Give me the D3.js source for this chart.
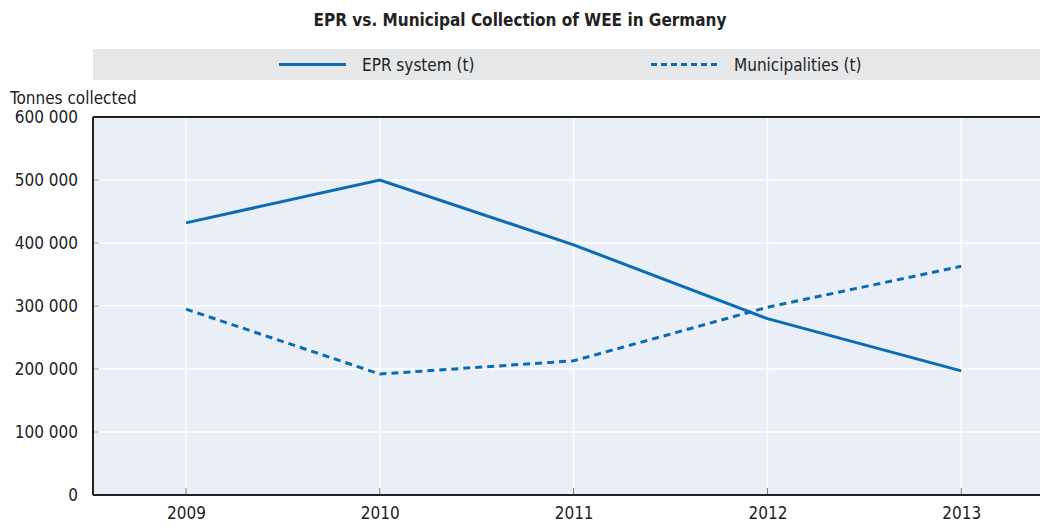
<!DOCTYPE html>
<html>
<head>
<meta charset="utf-8">
<script src="https://cdn.jsdelivr.net/npm/d3@7"></script>
<style>
  body { margin: 0; background: #fff; overflow: hidden; }
  svg { display: block; }
  text { font-family: "Liberation Sans Narrow", "Arial Narrow", "DejaVu Sans Condensed", sans-serif; fill: #222; }
</style>
</head>
<body>
<div id="chart"></div>
<script>
var years = [2009, 2010, 2011, 2012, 2013]
var eprValues = [432000, 500000, 397000, 280000, 197000]
var muniValues = [295000, 192000, 213000, 298000, 363000]
var yTicks = [0, 100000, 200000, 300000, 400000, 500000, 600000]
var seriesNames = ["EPR system (t)", "Municipalities (t)"]

var outerWidth = 1040, outerHeight = 526
var margins = {top: 117, right: -22, bottom: 31, left: 93}
var innerWidth = outerWidth - margins.left - margins.right
var innerHeight = outerHeight - margins.top - margins.bottom
// visible part of the plot (the panel runs past the right edge of the window)
var visibleWidth = outerWidth - margins.left

var blue = "#0a6cb4"

var svg = d3.select("#chart").append("svg")
    .attr("width", outerWidth)
    .attr("height", outerHeight)

svg.append("text")
    .attr("x", 520)
    .attr("y", 26)
    .attr("text-anchor", "middle")
    .attr("font-size", "17px")
    .attr("font-weight", "bold")
    .text("EPR vs. Municipal Collection of WEE in Germany")

// legend band
svg.append("rect")
    .attr("x", 93).attr("y", 49)
    .attr("width", outerWidth - 93).attr("height", 31)
    .attr("fill", "#e6e7e9")

var legendItems = [
    {name: seriesNames[0], x: 279, dash: null},
    {name: seriesNames[1], x: 651, dash: "6,4"}
]
legendItems.forEach(function(it) {
    svg.append("line")
        .attr("x1", it.x).attr("x2", it.x + 67)
        .attr("y1", 64.5).attr("y2", 64.5)
        .attr("stroke", blue).attr("stroke-width", 3)
        .attr("stroke-dasharray", it.dash)
    svg.append("text")
        .attr("x", it.x + 83)
        .attr("y", 71)
        .attr("font-size", "17px")
        .text(it.name)
})

svg.append("text")
    .attr("x", 10)
    .attr("y", 104)
    .attr("font-size", "17px")
    .text("Tonnes collected")

var plot = svg.append("g")
    .attr("transform", "translate(" + margins.left + "," + margins.top + ")")

var xScale = d3.scaleLinear().domain([2008.52, 2013.52]).range([0, innerWidth])
var yScale = d3.scaleLinear().domain([0, 600000]).range([innerHeight, 0])

plot.append("rect")
    .attr("width", visibleWidth).attr("height", innerHeight)
    .attr("fill", "#e9eef7")

// gridlines
plot.selectAll(".hgrid")
    .data(yTicks.slice(1, -1))
    .enter().append("line")
    .attr("x1", 0).attr("x2", visibleWidth)
    .attr("y1", function(d) { return yScale(d) })
    .attr("y2", function(d) { return yScale(d) })
    .attr("stroke", "#fff").attr("stroke-width", 1.5)

plot.selectAll(".vgrid")
    .data(years)
    .enter().append("line")
    .attr("x1", function(d) { return xScale(d) })
    .attr("x2", function(d) { return xScale(d) })
    .attr("y1", 0).attr("y2", innerHeight)
    .attr("stroke", "#fff").attr("stroke-width", 1.5)

// y axis
var yAxis = d3.axisLeft(yScale)
    .tickValues(yTicks)
    .tickSize(0)
    .tickPadding(15)
    .tickFormat(function(d) { return d3.format(",")(d).replace(/,/g, " ") })
var gy = plot.append("g").call(yAxis)
gy.select(".domain").remove()
gy.selectAll("text").attr("font-size", "17px").attr("fill", "#222")

// small inner ticks on y
plot.selectAll(".ytick")
    .data(yTicks.slice(1, -1))
    .enter().append("line")
    .attr("x1", 0).attr("x2", 6)
    .attr("y1", function(d) { return yScale(d) })
    .attr("y2", function(d) { return yScale(d) })
    .attr("stroke", "#999").attr("stroke-width", 1)

// x axis
var xAxis = d3.axisBottom(xScale)
    .tickValues(years)
    .tickSize(0)
    .tickPadding(12)
    .tickFormat(d3.format("d"))
var gx = plot.append("g")
    .attr("transform", "translate(0," + innerHeight + ")")
    .call(xAxis)
gx.select(".domain").remove()
gx.selectAll("text").attr("font-size", "17px").attr("fill", "#222")

plot.selectAll(".xtick")
    .data(years)
    .enter().append("line")
    .attr("x1", function(d) { return xScale(d) })
    .attr("x2", function(d) { return xScale(d) })
    .attr("y1", innerHeight).attr("y2", innerHeight - 7)
    .attr("stroke", "#777").attr("stroke-width", 1)

// borders
plot.append("line").attr("x1", 0).attr("x2", visibleWidth).attr("y1", 0).attr("y2", 0)
    .attr("stroke", "#222").attr("stroke-width", 2)
plot.append("line").attr("x1", 0).attr("x2", visibleWidth).attr("y1", innerHeight).attr("y2", innerHeight)
    .attr("stroke", "#222").attr("stroke-width", 2)
plot.append("line").attr("x1", 0).attr("x2", 0).attr("y1", 0).attr("y2", innerHeight)
    .attr("stroke", "#222").attr("stroke-width", 2)

var line = d3.line()
    .x(function(d, i) { return xScale(years[i]) })
    .y(function(d) { return yScale(d) })

plot.append("path")
    .datum(eprValues)
    .attr("d", line)
    .attr("fill", "none")
    .attr("stroke", blue)
    .attr("stroke-width", 3)

plot.append("path")
    .datum(muniValues)
    .attr("d", line)
    .attr("fill", "none")
    .attr("stroke", blue)
    .attr("stroke-width", 3)
    .attr("stroke-dasharray", "7,5")
</script>
</body>
</html>
